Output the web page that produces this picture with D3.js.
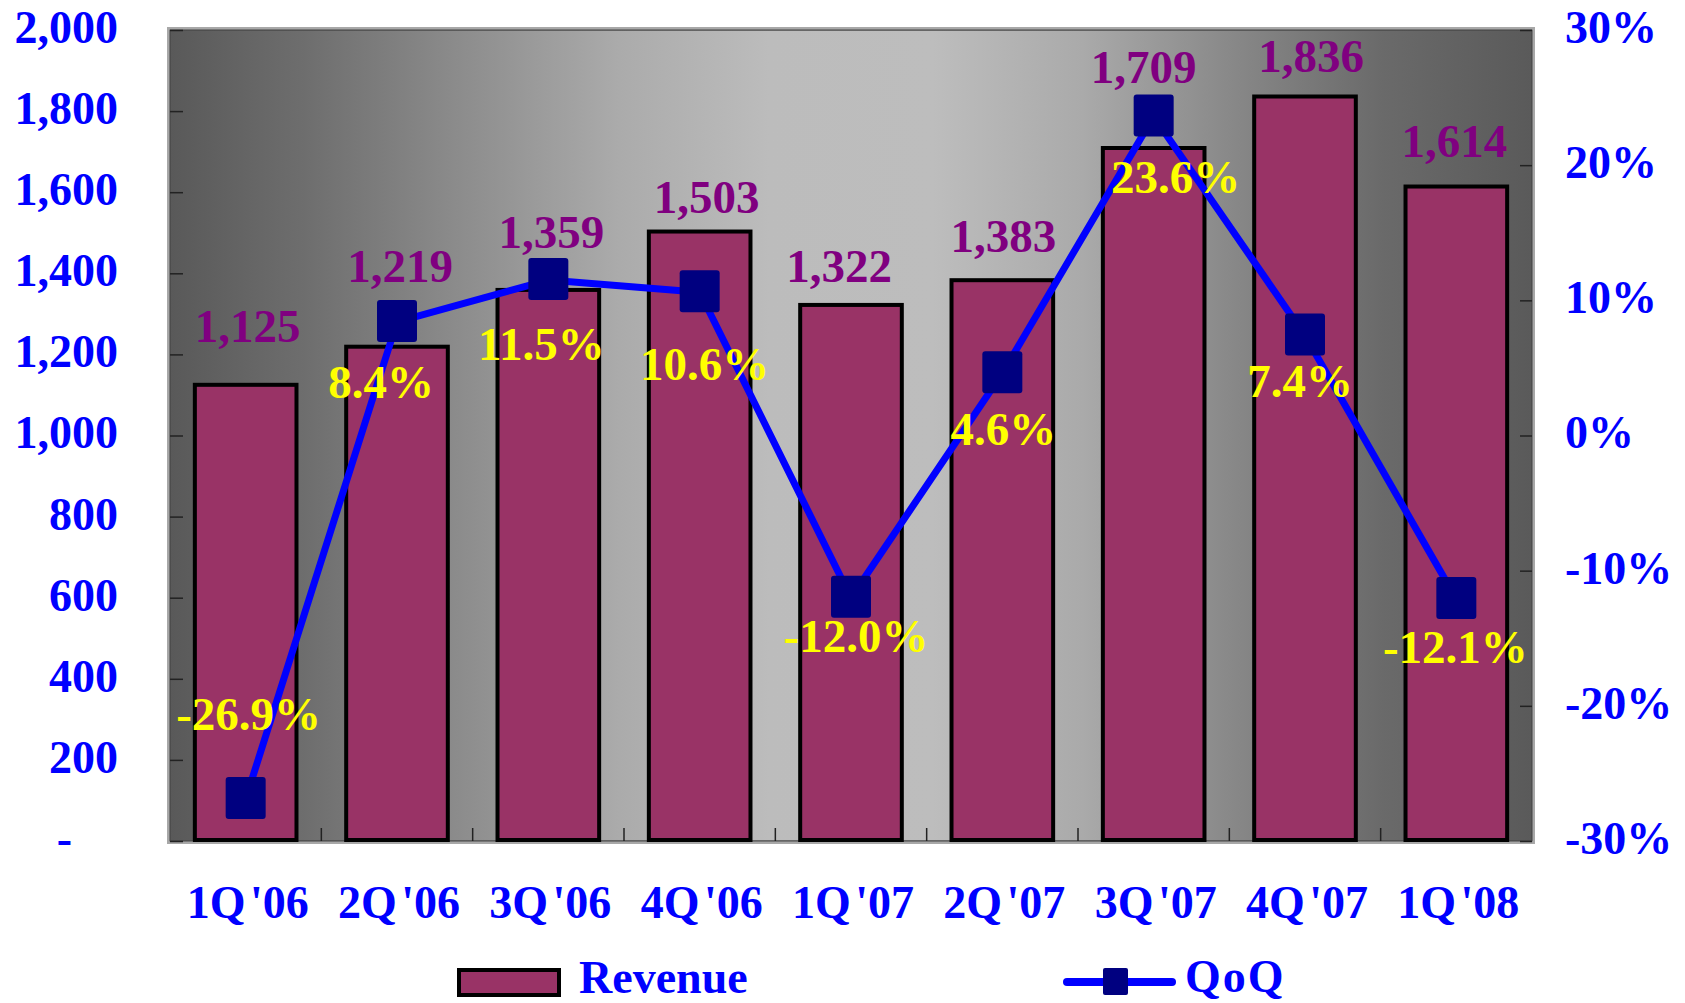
<!DOCTYPE html>
<html>
<head>
<meta charset="utf-8">
<script src="https://cdn.jsdelivr.net/npm/d3@7"></script>
<style>
  html, body { margin: 0; padding: 0; background: #ffffff; }
  svg { display: block; }
  text { font-family: "Liberation Serif", "Times New Roman", serif; font-weight: bold; }
</style>
</head>
<body>
<svg id="chart" width="1685" height="1003"></svg>
<script>
// Quarterly revenue and quarter-over-quarter growth
const quarters = ["1Q '06", "2Q '06", "3Q '06", "4Q '06", "1Q '07", "2Q '07", "3Q '07", "4Q '07", "1Q '08"];
const revenue = [1125, 1219, 1359, 1503, 1322, 1383, 1709, 1836, 1614];
const qoq = [-26.9, 8.4, 11.5, 10.6, -12.0, 4.6, 23.6, 7.4, -12.1];
const revenueTicks = [0, 200, 400, 600, 800, 1000, 1200, 1400, 1600, 1800, 2000];
const qoqTicks = [-30, -20, -10, 0, 10, 20, 30];
const legendLabels = ["Revenue", "QoQ"];

// Hand-placed label nudges: [dx, baseline offset from the mark]
const revenueLabelNudge = [[2, -43], [3, -65], [3, -42], [7, -19], [-12, -23], [1, -28], [-10, -65], [6, -25], [-2, -30]];
const qoqLabelNudge = [[3, -69], [-16, 76], [-7, 80], [5, 88], [5, 54], [1, 72], [22, 76], [-5, 62], [-1, 64]];

const COLORS = {
  bar: "#993366",
  line: "#0000ff",
  marker: "#000080",
  axisText: "#0000ff",
  revenueText: "#800080",
  qoqText: "#ffff00"
};

// Plain hyphen for negative numbers
const locale = d3.formatLocale({ decimal: ".", thousands: ",", grouping: [3], currency: ["$", ""], minus: "-" });
const fmtThousands = locale.format(",");
const fmtPct = locale.format(".1f");

const plot = { left: 170, right: 1532, top: 30, bottom: 841 };
const svg = d3.select("#chart");

const x = d3.scaleBand()
  .domain(quarters)
  .range([plot.left, plot.right])
  .paddingInner(0.302)
  .paddingOuter(0.151);
const yL = d3.scaleLinear().domain([0, 2000]).range([plot.bottom, plot.top]);
const yR = d3.scaleLinear().domain([-30, 30]).range([plot.bottom, plot.top]);
const cx = q => x(q) + x.bandwidth() / 2;

// Plot-area background: horizontal grey gradient, light in the middle
const defs = svg.append("defs");
const grad = defs.append("linearGradient")
  .attr("id", "plotBg")
  .attr("x1", "0%").attr("x2", "100%").attr("y1", "0%").attr("y2", "0%");
[[0, "#595959"], [0.10, "#6e6e6e"], [0.22, "#8e8e8e"], [0.33, "#ababab"], [0.44, "#bcbcbc"],
 [0.56, "#bdbdbd"], [0.67, "#aaaaaa"], [0.78, "#888888"], [0.89, "#6a6a6a"], [1, "#5a5a5a"]]
  .forEach(([o, c]) => grad.append("stop").attr("offset", o).attr("stop-color", c));

svg.append("rect")
  .attr("x", plot.left - 2).attr("y", plot.top - 2)
  .attr("width", plot.right - plot.left + 4).attr("height", plot.bottom - plot.top + 4)
  .attr("fill", "none").attr("stroke", "#a8a8a8").attr("stroke-width", 2);
svg.append("rect")
  .attr("x", plot.left).attr("y", plot.top)
  .attr("width", plot.right - plot.left).attr("height", plot.bottom - plot.top)
  .attr("fill", "url(#plotBg)")
  .attr("stroke", "#4a4a4a").attr("stroke-width", 1.5);

// Left axis (revenue)
const leftAxis = svg.append("g")
  .attr("transform", `translate(${plot.left},0)`)
  .call(d3.axisLeft(yL)
    .tickValues(revenueTicks)
    .tickSize(-13)
    .tickPadding(52)
    .tickFormat(d => d === 0 ? "-" : fmtThousands(d)));
leftAxis.select(".domain").remove();
leftAxis.selectAll(".tick line").attr("stroke", "#222").attr("stroke-width", 1.5);
leftAxis.selectAll(".tick text")
  .attr("fill", COLORS.axisText)
  .attr("font-size", 46)
  .attr("dy", "0.27em")
  .attr("dx", d => d === 0 ? "-1em" : 0);

// Right axis (QoQ %)
const rightAxis = svg.append("g")
  .attr("transform", `translate(${plot.right},0)`)
  .call(d3.axisRight(yR)
    .tickValues(qoqTicks)
    .tickSize(-12)
    .tickPadding(33)
    .tickFormat(d => locale.format("d")(d) + "%"));
rightAxis.select(".domain").remove();
rightAxis.selectAll(".tick line").attr("stroke", "#222").attr("stroke-width", 1.5);
rightAxis.selectAll(".tick text")
  .attr("fill", COLORS.axisText)
  .attr("font-size", 46)
  .attr("dy", "0.27em");

// Bottom axis (quarters)
const bottomAxis = svg.append("g")
  .attr("transform", `translate(0,${plot.bottom})`)
  .call(d3.axisBottom(x).tickSize(0).tickPadding(77));
bottomAxis.select(".domain").remove();
bottomAxis.selectAll(".tick text")
  .attr("fill", COLORS.axisText)
  .attr("font-size", 46)
  .attr("word-spacing", -7)
  .attr("dy", 0)
  .attr("dx", 2);

// Category dividers on the bottom axis
svg.append("g")
  .selectAll("line")
  .data(d3.range(1, quarters.length))
  .join("line")
  .attr("x1", i => plot.left + i * x.step())
  .attr("x2", i => plot.left + i * x.step())
  .attr("y1", plot.bottom)
  .attr("y2", plot.bottom - 13)
  .attr("stroke", "#222").attr("stroke-width", 1.5);

// Revenue bars
svg.append("g")
  .selectAll("rect")
  .data(quarters)
  .join("rect")
  .attr("x", q => x(q) + 2)
  .attr("width", x.bandwidth() - 4)
  .attr("y", (q, i) => yL(revenue[i]))
  .attr("height", (q, i) => yL(0) - yL(revenue[i]) - 1)
  .attr("fill", COLORS.bar)
  .attr("stroke", "#000")
  .attr("stroke-width", 4);

// Revenue labels
svg.append("g")
  .selectAll("text")
  .data(quarters)
  .join("text")
  .attr("x", (q, i) => cx(q) + revenueLabelNudge[i][0])
  .attr("y", (q, i) => yL(revenue[i]) + revenueLabelNudge[i][1])
  .attr("text-anchor", "middle")
  .attr("font-size", 47)
  .attr("fill", COLORS.revenueText)
  .text((q, i) => fmtThousands(revenue[i]));

// QoQ line
const line = d3.line()
  .x((d, i) => cx(quarters[i]))
  .y(d => yR(d));
svg.append("path")
  .datum(qoq)
  .attr("d", line)
  .attr("fill", "none")
  .attr("stroke", COLORS.line)
  .attr("stroke-width", 7)
  .attr("stroke-linejoin", "round");

// QoQ markers
const M = 40;
svg.append("g")
  .selectAll("rect")
  .data(qoq)
  .join("rect")
  .attr("x", (d, i) => cx(quarters[i]) - M / 2)
  .attr("y", d => yR(d) - M / 2 - 2)
  .attr("width", M).attr("height", M + 2)
  .attr("rx", 3)
  .attr("fill", COLORS.marker);

// QoQ labels
svg.append("g")
  .selectAll("text")
  .data(qoq)
  .join("text")
  .attr("x", (d, i) => cx(quarters[i]) + qoqLabelNudge[i][0])
  .attr("y", (d, i) => yR(d) + qoqLabelNudge[i][1])
  .attr("text-anchor", "middle")
  .attr("font-size", 47)
  .attr("fill", COLORS.qoqText)
  .text(d => fmtPct(d) + "%");

// Legend
const legend = svg.append("g");
legend.append("rect")
  .attr("x", 459).attr("y", 970).attr("width", 100).attr("height", 25)
  .attr("fill", COLORS.bar).attr("stroke", "#000").attr("stroke-width", 4);
legend.append("text")
  .attr("x", 579).attr("y", 993)
  .attr("font-size", 46).attr("fill", COLORS.axisText)
  .text(legendLabels[0]);
legend.append("line")
  .attr("x1", 1067).attr("x2", 1172).attr("y1", 982).attr("y2", 982)
  .attr("stroke", COLORS.line).attr("stroke-width", 8).attr("stroke-linecap", "round");
legend.append("rect")
  .attr("x", 1103).attr("y", 968).attr("width", 25).attr("height", 27).attr("rx", 2)
  .attr("fill", COLORS.marker);
legend.append("text")
  .attr("x", 1185).attr("y", 992)
  .attr("font-size", 46).attr("fill", COLORS.axisText)
  .attr("letter-spacing", 2)
  .text(legendLabels[1]);
</script>
</body>
</html>
